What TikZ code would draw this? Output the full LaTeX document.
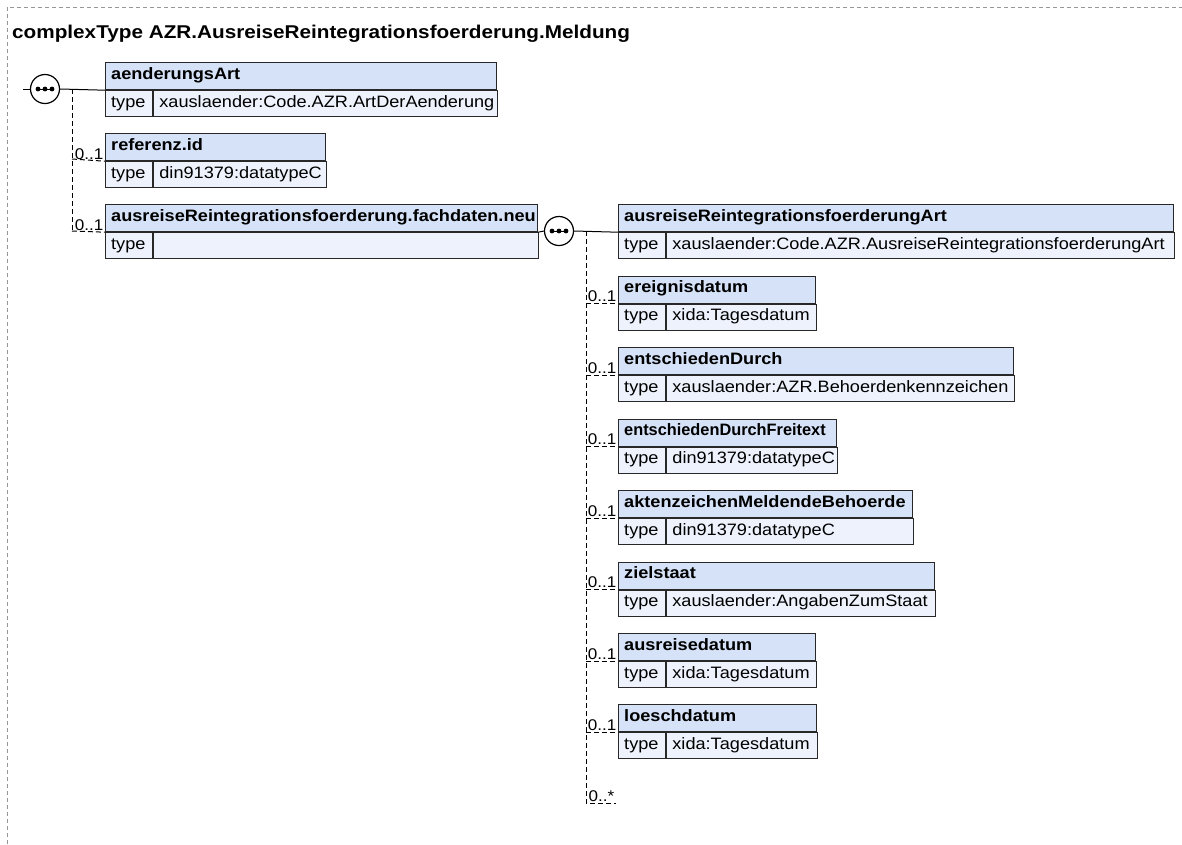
\documentclass[tikz,border=0pt]{standalone}
\usepackage{fontspec}
\usepackage{graphicx}
\setmainfont{Liberation Sans}
\newfontfamily\dfont[FakeStretch=1.1]{Liberation Sans}
\newfontfamily\tfont[FakeStretch=1.12]{Liberation Sans}
\definecolor{hdrfill}{RGB}{213,226,247}
\definecolor{rowfill}{RGB}{237,242,252}
\definecolor{edge}{RGB}{40,40,40}
\definecolor{frame}{RGB}{150,150,150}
\tikzset{
  x=1pt,y=1pt,
  hdr/.style={draw=edge,line width=1.2pt,fill=hdrfill,anchor=north west,minimum height=27pt,inner sep=0pt},
  cell/.style={draw=edge,line width=1.2pt,fill=rowfill,anchor=north west,minimum height=26pt,inner sep=0pt},
  htext/.style={anchor=base west,inner sep=0pt,font=\dfont\fontsize{16.5}{18}\selectfont\bfseries},
  ctext/.style={anchor=base west,inner sep=0pt,font=\dfont\fontsize{16.5}{18}\selectfont},
  conn/.style={line width=1pt,black},
  opt/.style={line width=1pt,black,dash pattern=on 5pt off 3pt},
  mult/.style={font=\dfont\fontsize{15.5}{17}\selectfont,anchor=south east,inner sep=1.5pt},
  seqc/.style={circle,draw=black,fill=white,line width=1.2pt,minimum size=29pt,inner sep=0pt},
}
\newcommand{\seqdots}[1]{%
  \draw[line width=1pt] ([xshift=-7pt]#1.center) -- ([xshift=7pt]#1.center);
  \foreach \dx in {-7,0,7} \fill ([xshift=\dx pt]#1.center) circle (2.4pt);
}
% name, x, top y, width, element name, type text
\newcommand{\xelem}[6]{%
  \node[hdr,minimum width=#4pt] (#1) at (#2,-#3) {};
  \node[htext] (#1n) at ([xshift=6pt,yshift=-17pt]#1.north west) {#5};
  \node[cell,minimum width=47pt] (#1t) at (#1.south west) {};
  \node[ctext] (#1tl) at ([xshift=6pt,yshift=-17pt]#1t.north west) {type};
  \pgfmathsetmacro{\vw}{#4-47}
  \node[cell,minimum width=\vw pt] (#1v) at (#1t.north east) {};
  \node[ctext] (#1vl) at ([xshift=6pt,yshift=-17pt]#1v.north west) {#6};
}
\begin{document}
\begin{tikzpicture}
\useasboundingbox (0,0) rectangle (1182,-844);
% frame
\draw[frame,line width=1pt,dash pattern=on 4pt off 3pt] (7,-844) -- (7,-7) -- (1182,-7);
\node[anchor=base west,inner sep=0pt,font=\tfont\fontsize{18.5}{20}\selectfont\bfseries] (title) at (12,-38) {complexType AZR.AusreiseReintegrationsfoerderung.Meldung};

% left sequence
\node[seqc] (s1) at (45,-89) {};
\seqdots{s1}
\coordinate (s1in) at (23,-89);

\xelem{h1}{105}{62}{391}{aenderungsArt}{xauslaender:Code.AZR.ArtDerAenderung}
\xelem{h2}{105}{133}{220}{referenz.id}{din91379:datatypeC}
\xelem{h3}{105}{204}{432}{ausreiseReintegrationsfoerderung.fachdaten.neu}{}

% left connectors
\draw[conn] (s1in) -- (s1.west);
\draw[conn] (s1.east) -- (h1.south west);
\coordinate (b1) at (72,-89);
\coordinate (b2) at (72,-159);
\coordinate (b3) at (72,-231);
\draw[opt] (b1) -- (b3);
\draw[opt] (b2) -- (h2.south west);
\draw[opt] (b3) -- (h3.south west);
\node[mult] at (h2.south west) {0..1};
\node[mult] at (h3.south west) {0..1};

% right sequence
\node[seqc] (s2) at (559,-231) {};
\seqdots{s2}
\draw[conn] (h3.south east) -- (s2.west);

\xelem{r1}{618}{204}{555}{ausreiseReintegrationsfoerderungArt}{xauslaender:Code.AZR.AusreiseReintegrationsfoerderungArt}
\xelem{r2}{618}{275.5}{197}{ereignisdatum}{xida:Tagesdatum}
\xelem{r3}{618}{347}{395}{entschiedenDurch}{xauslaender:AZR.Behoerdenkennzeichen}
\xelem{r4}{618}{418.5}{218}{\scalebox{0.9}[1]{entschiedenDurchFreitext}}{din91379:datatypeC}
\xelem{r5}{618}{490}{294}{aktenzeichenMeldendeBehoerde}{din91379:datatypeC}
\xelem{r6}{618}{561.5}{316}{zielstaat}{xauslaender:AngabenZumStaat}
\xelem{r7}{618}{633}{197}{ausreisedatum}{xida:Tagesdatum}
\xelem{r8}{618}{704}{198}{loeschdatum}{xida:Tagesdatum}

\draw[conn] (s2.east) -- (r1.south west);
\coordinate (c0) at (586,-231);
\coordinate (cend) at (586,-803);
\coordinate (anyend) at (616,-803);
\draw[opt] (c0) -- (cend) -- (anyend);
\foreach \n in {r2,r3,r4,r5,r6,r7,r8}{
  \coordinate (\n c) at (586,0 |- \n.south west);
  \draw[opt] (\n c) -- (\n.south west);
  \node[mult] at (\n.south west) {0..1};
}
\node[mult] at (anyend) {0..*};
\end{tikzpicture}
\end{document}
